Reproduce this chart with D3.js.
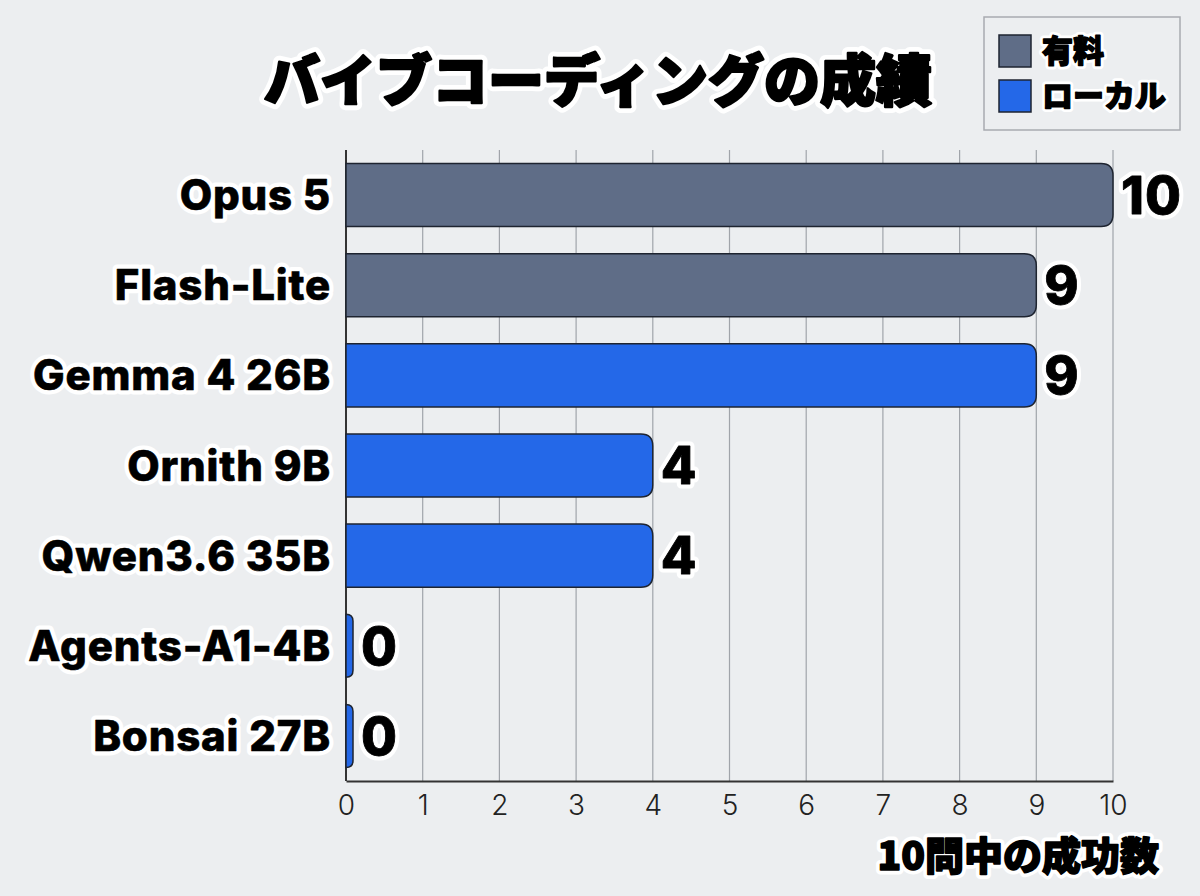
<!DOCTYPE html>
<html>
<head>
<meta charset="utf-8">
<script src="https://cdn.jsdelivr.net/npm/d3@7"></script>
<style>
  html, body { margin: 0; padding: 0; background: #eceef0; }
  svg { display: block; }
</style>
</head>
<body>
<div id="chart"></div>
<script>
// data
var models = ['Opus 5', 'Flash-Lite', 'Gemma 4 26B', 'Ornith 9B', 'Qwen3.6 35B', 'Agents-A1-4B', 'Bonsai 27B'];
var scores = [10, 9, 9, 4, 4, 0, 0];
var kinds = ['有料', '有料', 'ローカル', 'ローカル', 'ローカル', 'ローカル', 'ローカル'];
var legendLabels = ['有料', 'ローカル'];
var ticks = [0, 1, 2, 3, 4, 5, 6, 7, 8, 9, 10];

var W = 1200, H = 896;
var mLeft = 346, mRight = 1113, mTop = 150, mBottom = 781;

var colors = { '有料': '#5f6d87', 'ローカル': '#2468e8' };

var svg = d3.select('#chart').append('svg').attr('width', W).attr('height', H);
svg.append('rect').attr('width', W).attr('height', H).attr('fill', '#eceef0');

var x = d3.scaleLinear().domain([0, 10]).range([mLeft, mRight]);
var y = d3.scaleBand().domain(models).range([mTop, mBottom]).paddingInner(0.3).paddingOuter(0.15);

// text with white halo, then a thin black stroke to make it heavier
function haloText(sel, halo, thick) {
    sel.each(function() {
        var t = d3.select(this);
        var clone = t.clone(true);
        t.attr('stroke', '#fff').attr('stroke-width', halo).attr('stroke-linejoin', 'round');
        clone.attr('stroke', '#000').attr('stroke-width', thick).attr('stroke-linejoin', 'round');
    });
}

// grid
svg.append('g').selectAll('line').data(ticks.slice(1)).enter().append('line')
    .attr('x1', function(d) { return x(d); })
    .attr('x2', function(d) { return x(d); })
    .attr('y1', mTop).attr('y2', mBottom)
    .attr('stroke', '#a0a4aa').attr('stroke-width', 1.2);

// axes
var xAxis = svg.append('g').attr('transform', 'translate(0,' + mBottom + ')')
    .call(d3.axisBottom(x).tickValues(ticks).tickSize(0).tickPadding(14));
xAxis.select('.domain').attr('stroke', '#333').attr('stroke-width', 2);
xAxis.selectAll('text')
    .attr('font-family', 'Inter, sans-serif').attr('font-size', 28).attr('font-weight', 300)
    .attr('fill', '#222');

svg.append('line').attr('x1', mLeft).attr('x2', mLeft).attr('y1', mTop).attr('y2', mBottom)
    .attr('stroke', '#333').attr('stroke-width', 2);

// bars
var r = 12;
function barPath(d, i) {
    var x0 = x(0), x1 = Math.max(x(d), x0 + 7);
    var y0 = y(models[i]), h = y.bandwidth();
    var rr = Math.min(r, x1 - x0);
    return 'M' + x0 + ',' + y0 +
        'H' + (x1 - rr) +
        'Q' + x1 + ',' + y0 + ' ' + x1 + ',' + (y0 + rr) +
        'V' + (y0 + h - rr) +
        'Q' + x1 + ',' + (y0 + h) + ' ' + (x1 - rr) + ',' + (y0 + h) +
        'H' + x0 + 'Z';
}
svg.append('g').selectAll('path').data(scores).enter().append('path')
    .attr('d', barPath)
    .attr('fill', function(d, i) { return colors[kinds[i]]; })
    .attr('stroke', '#1e2430').attr('stroke-width', 1.5);

// value labels
svg.append('g').selectAll('text').data(scores).enter().append('text')
    .attr('x', function(d) { return Math.max(x(d), x(0) + 7) + 8; })
    .attr('y', function(d, i) { return y(models[i]) + y.bandwidth() / 2; })
    .attr('dy', '0.36em')
    .attr('font-family', 'Inter, sans-serif').attr('font-size', 52).attr('font-weight', 800)
    .attr('letter-spacing', 1)
    .attr('fill', '#000')
    .text(function(d) { return d; })
    .call(haloText, 9, 0.8);

// category labels
svg.append('g').selectAll('text').data(models).enter().append('text')
    .attr('x', 331)
    .attr('y', function(d) { return y(d) + y.bandwidth() / 2; })
    .attr('dy', '0.36em')
    .attr('text-anchor', 'end')
    .attr('font-family', 'Inter, sans-serif').attr('font-size', 42).attr('font-weight', 800)
    .attr('letter-spacing', 0.8)
    .attr('fill', '#000')
    .text(function(d) { return d; })
    .call(haloText, 9, 0.6);

// title
svg.append('text')
    .attr('x', 598).attr('y', 101)
    .attr('text-anchor', 'middle')
    .attr('font-family', '"Noto Sans CJK JP", sans-serif').attr('font-size', 56).attr('font-weight', 900)
    .attr('fill', '#000')
    .text('バイブコーディングの成績')
    .call(haloText, 12, 2.4);

// axis title
svg.append('text')
    .attr('x', 1159).attr('y', 870)
    .attr('text-anchor', 'end')
    .attr('font-family', '"Noto Sans CJK JP", sans-serif').attr('font-size', 39).attr('font-weight', 900)
    .attr('fill', '#000')
    .text('10問中の成功数')
    .call(haloText, 9, 1.6);

// legend
var legend = svg.append('g');
legend.append('rect').attr('x', 984).attr('y', 17).attr('width', 196).attr('height', 113)
    .attr('fill', '#eceef0').attr('stroke', '#a8abb0').attr('stroke-width', 1.5);
var li = legend.selectAll('g.item').data(legendLabels).enter().append('g').attr('class', 'item')
    .attr('transform', function(d, i) { return 'translate(999,' + (35 + i * 45) + ')'; });
li.append('rect').attr('width', 32).attr('height', 32)
    .attr('fill', function(d) { return colors[d]; })
    .attr('stroke', '#1e2430').attr('stroke-width', 1.5);
li.append('text')
    .attr('x', 43).attr('y', 16).attr('dy', '0.36em')
    .attr('font-family', '"Noto Sans CJK JP", sans-serif').attr('font-size', 31).attr('font-weight', 900)
    .attr('fill', '#000')
    .text(function(d) { return d; })
    .call(haloText, 7, 1.4);
</script>
</body>
</html>
